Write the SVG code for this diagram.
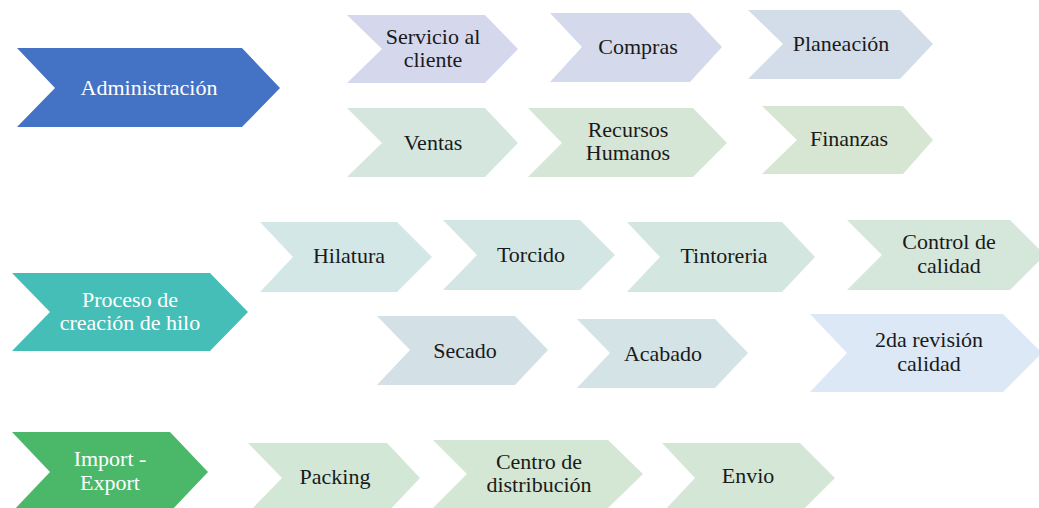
<svg xmlns="http://www.w3.org/2000/svg" width="1039" height="508" viewBox="0 0 1039 508">
<rect width="1039" height="508" fill="#ffffff"/>
<g id="connectors"/>
<g font-family="Liberation Serif" font-size="22" text-anchor="middle" fill="#1a1a1a">
<g id="administracion"><polygon points="17,48 242,48 280,88 242,127 17,127 55,88" fill="#4472C4"/><text fill="#ffffff" x="149" y="95">Administración</text></g>
<g id="servicio"><polygon points="347,15 485,15 518,49 485,83 347,83 382,49" fill="#D5D8EC"/><text x="433" y="44">Servicio al</text><text x="433" y="67">cliente</text></g>
<g id="compras"><polygon points="550,13 690,13 722,47 690,82 550,82 582,47" fill="#D4DAEC"/><text x="638" y="54">Compras</text></g>
<g id="planeacion"><polygon points="748,10 900,10 933,44 900,79 748,79 783,44" fill="#D3DDEA"/><text x="841" y="51">Planeación</text></g>
<g id="ventas"><polygon points="347,108 485,108 518,143 485,177 347,177 382,143" fill="#D4E6DD"/><text x="433" y="150">Ventas</text></g>
<g id="recursos"><polygon points="528,108 693,108 727,143 693,177 528,177 562,143" fill="#D5E5D6"/><text x="628" y="137">Recursos</text><text x="628" y="160">Humanos</text></g>
<g id="finanzas"><polygon points="762,106 903,106 933,140 903,174 762,174 797,140" fill="#D7E5D3"/><text x="849" y="146">Finanzas</text></g>
<g id="proceso"><polygon points="12,273 210,273 248,312 210,351 12,351 50,312" fill="#46BEB8"/><text fill="#ffffff" x="130" y="307">Proceso de</text><text fill="#ffffff" x="130" y="330">creación de hilo</text></g>
<g id="hilatura"><polygon points="260,222 397,222 432,257 397,292 260,292 293,257" fill="#D3E7E7"/><text x="349" y="263">Hilatura</text></g>
<g id="torcido"><polygon points="443,220 580,220 615,255 580,290 443,290 477,255" fill="#D3E6E4"/><text x="531" y="262">Torcido</text></g>
<g id="tintoreria"><polygon points="627,222 782,222 815,257 782,292 627,292 660,257" fill="#D3E6DF"/><text x="724" y="263">Tintoreria</text></g>
<g id="control"><polygon points="847,220 1010,220 1045,255 1010,290 847,290 882,255" fill="#D5E6DA"/><text x="949" y="249">Control de</text><text x="949" y="273">calidad</text></g>
<g id="secado"><polygon points="377,316 515,316 548,350 515,385 377,385 410,350" fill="#D3E0E6"/><text x="465" y="358">Secado</text></g>
<g id="acabado"><polygon points="577,319 715,319 748,353 715,388 577,388 610,353" fill="#D3E3E6"/><text x="663" y="361">Acabado</text></g>
<g id="revision"><polygon points="810,314 1003,314 1042,353 1003,392 810,392 847,353" fill="#DCE8F5"/><text x="929" y="347">2da revisión</text><text x="929" y="371">calidad</text></g>
<g id="import"><polygon points="12,432 170,432 208,472 170,512 12,512 50,472" fill="#4BB769"/><text fill="#ffffff" x="110" y="466">Import -</text><text fill="#ffffff" x="110" y="490">Export</text></g>
<g id="packing"><polygon points="248,443 387,443 420,478 387,513 248,513 282,478" fill="#D3E7D7"/><text x="335" y="484">Packing</text></g>
<g id="centro"><polygon points="433,440 608,440 643,474 608,508 433,508 467,474" fill="#D4E7D4"/><text x="539" y="469">Centro de</text><text x="539" y="492">distribución</text></g>
<g id="envio"><polygon points="662,443 800,443 835,478 800,513 662,513 695,478" fill="#D4E7D6"/><text x="748" y="483">Envio</text></g>
</g>
</svg>
